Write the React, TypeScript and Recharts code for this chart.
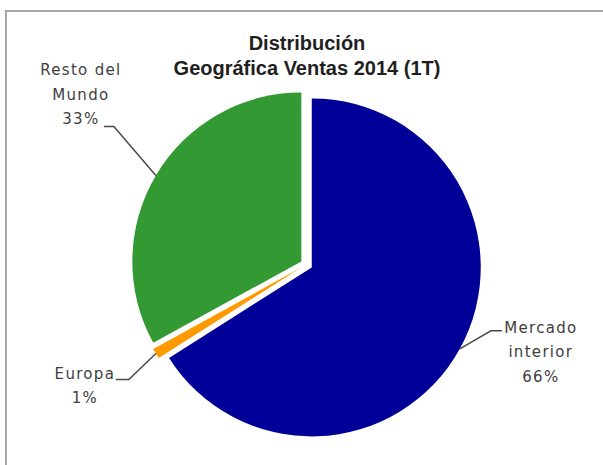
import React from 'react';
import { PieChart, Pie, Cell } from 'recharts';

const categories = ['Mercado interior', 'Europa', 'Resto del Mundo'];
const categoryLines = [['Mercado', 'interior'], ['Europa'], ['Resto del', 'Mundo']];
const shares = [66, 1, 33];
const colors = ['#000099', '#FF9900', '#339933'];
const titleLines = ['Distribución', 'Geográfica Ventas 2014 (1T)'];

const data = categories.map((name, i) => ({ name, value: shares[i] }));

const WIDTH = 603;
const HEIGHT = 465;
const BASE_CX = 306.5;
const BASE_CY = 264.5;
const RADIUS = 169;
const EXPLODE = 6;
const RAD = Math.PI / 180;

// label placement relative to the slice's outer mid point: elbow, tail end, text anchor (first baseline)
const labelPlacement = [
  { elbow: [31, -18], tail: [42, -18], text: [81, -16] },
  { elbow: [-27, 26], tail: [-40, 26], text: [-71, 25] },
  { elbow: [-42, -49], tail: [-52, -49], text: [-75, -100] },
];

const total = shares.reduce((a, b) => a + b, 0);
const midAngles: number[] = [];
{
  let cum = 0;
  shares.forEach((v) => {
    midAngles.push(90 - ((cum + v / 2) / total) * 360);
    cum += v;
  });
}

const LINE_H = 24.5;

function makeLabel(sliceIndex: number) {
  return (props: any) => {
    const { cx, cy, midAngle, outerRadius, index, value } = props;
    if (index !== sliceIndex) return null;
    const px = cx + outerRadius * Math.cos(-midAngle * RAD);
    const py = cy + outerRadius * Math.sin(-midAngle * RAD);
    const p = labelPlacement[index];
    const lines = [...categoryLines[index], `${value}%`];
    return (
      <g>
        <polyline
          points={`${px},${py} ${px + p.elbow[0]},${py + p.elbow[1]} ${px + p.tail[0]},${py + p.tail[1]}`}
          fill="none"
          stroke="#4a4a4a"
          strokeWidth={1.5}
        />
        <text
          x={px + p.text[0]}
          y={py + p.text[1]}
          textAnchor="middle"
          fontFamily="DejaVu Sans"
          fontSize={15}
          letterSpacing={1.3}
          fill="#404040"
        >
          {lines.map((l, k) => (
            <tspan key={k} x={px + p.text[0]} y={py + p.text[1] + k * LINE_H}>
              {l}
            </tspan>
          ))}
        </text>
      </g>
    );
  };
}

export default function App() {
  return (
    <div style={{ position: 'absolute', left: 0, top: 0, width: WIDTH, height: HEIGHT, overflow: 'hidden', background: '#fff' }}>
      <div
        style={{
          position: 'absolute',
          left: 5,
          top: 10,
          width: 660,
          height: 520,
          border: '2px solid #a6a6a6',
          boxSizing: 'border-box',
        }}
      />
      <div style={{ position: 'absolute', left: 0, top: 0 }}>
        <PieChart width={WIDTH} height={HEIGHT} margin={{ top: 0, right: 0, bottom: 0, left: 0 }}>
          {shares.map((_, s) => (
            <Pie
              key={s}
              data={data}
              dataKey="value"
              nameKey="name"
              cx={BASE_CX + EXPLODE * Math.cos(midAngles[s] * RAD)}
              cy={BASE_CY - EXPLODE * Math.sin(midAngles[s] * RAD)}
              outerRadius={RADIUS}
              innerRadius={0}
              startAngle={90}
              endAngle={-270}
              stroke="none"
              isAnimationActive={false}
              label={makeLabel(s)}
              labelLine={false}
            >
              {data.map((_, i) => (
                <Cell key={i} fill={i === s ? colors[i] : 'transparent'} />
              ))}
            </Pie>
          ))}
          <text
            x={307}
            y={49}
            textAnchor="middle"
            fontFamily="Liberation Sans"
            fontWeight="bold"
            fontSize={20}
            fill="#1f1f1f"
          >
            <tspan x={307} y={50}>{titleLines[0]}</tspan>
            <tspan x={307} y={75}>{titleLines[1]}</tspan>
          </text>
        </PieChart>
      </div>
    </div>
  );
}
